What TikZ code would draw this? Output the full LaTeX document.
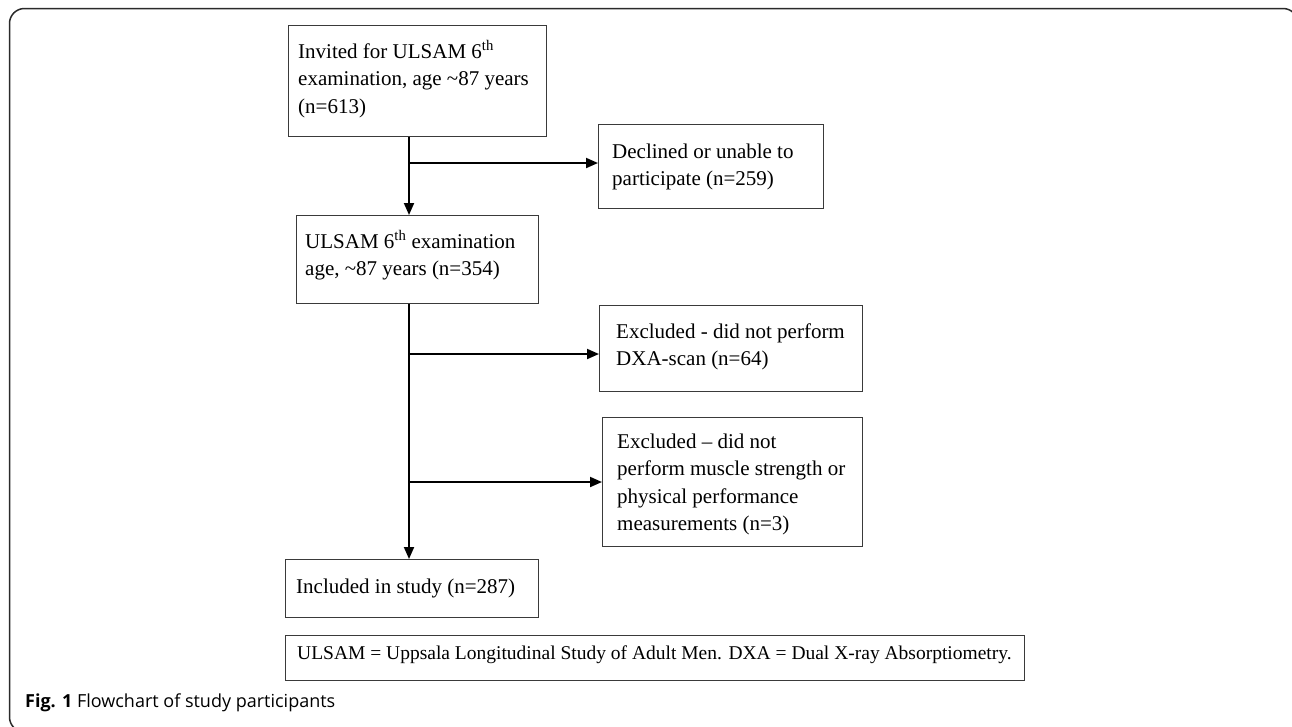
\documentclass[tikz,border=0pt]{standalone}
\usepackage{fontspec}
\setmainfont{Liberation Serif}
\newfontfamily\capfont{Open Sans}
\usetikzlibrary{arrows.meta}
\definecolor{boxline}{HTML}{3A3A3A}
\definecolor{frameline}{HTML}{2A2A2A}
\begin{document}
\begin{tikzpicture}[x=1pt,y=-1pt,
  flowbox/.style={draw=boxline,line width=1.3pt,rectangle,inner sep=0pt,anchor=north west},
  flowtext/.style={inner sep=0pt,anchor=north west,align=left,font=\fontsize{21}{27.5}\selectfont},
  arr/.style={draw=black,line width=1.9pt,-{Triangle[length=12pt,width=10pt]}},
  plain/.style={draw=black,line width=1.9pt}]
\useasboundingbox[fill=white] (0,0) rectangle (1292,726);
\begin{scope}
\clip (0,0) rectangle (1292,726);
\draw[frameline,line width=1.5pt,rounded corners=15pt] (9.5,8.5) rectangle (1298,732);
\end{scope}
% boxes
\node[flowbox,minimum width=258pt,minimum height=111pt] (b1) at (288,25) {};
\node[flowbox,minimum width=225pt,minimum height=84pt] (b2) at (598,124) {};
\node[flowbox,minimum width=242pt,minimum height=88pt] (b3) at (296,215) {};
\node[flowbox,minimum width=263pt,minimum height=86pt] (b4) at (599,305) {};
\node[flowbox,minimum width=260pt,minimum height=129pt] (b5) at (602,417) {};
\node[flowbox,minimum width=253pt,minimum height=58pt] (b6) at (285,559) {};
\node[flowbox,minimum width=739pt,minimum height=45pt] (b7) at (285,635) {};
% texts
\node[flowtext] (t1) at ([xshift=10pt,yshift=-13.75pt]b1.north west) {\strut Invited for ULSAM 6\textsuperscript{th}\\examination, age \textasciitilde87 years\\(n=613)};
\node[flowtext] (t2) at ([xshift=14pt,yshift=-14.75pt]b2.north west) {\strut Declined or unable to\\participate (n=259)};
\node[flowtext] (t3) at ([xshift=9pt,yshift=-13.75pt]b3.north west) {\strut ULSAM 6\textsuperscript{th} examination\\age, \textasciitilde87 years (n=354)};
\node[flowtext] (t4) at ([xshift=17pt,yshift=-13.75pt]b4.north west) {\strut Excluded - did not perform\\DXA-scan (n=64)};
\node[flowtext] (t5) at ([xshift=15pt,yshift=-11.75pt]b5.north west) {\strut Excluded -- did not\\perform muscle strength or\\physical performance\\measurements (n=3)};
\node[flowtext] (t6) at ([xshift=11pt,yshift=-14.75pt]b6.north west) {\strut Included in study (n=287)};
\node[inner sep=0pt,anchor=base west,font=\fontsize{19.5}{24}\selectfont] (t7) at (297,659) {ULSAM = Uppsala Longitudinal Study of Adult Men. DXA = Dual X-ray Absorptiometry.};
% caption
\node[inner sep=0pt,anchor=base west,font=\capfont\fontsize{18}{22}\selectfont] (cap) at (25,707) {\textbf{Fig. 1} Flowchart of study participants};
% connectors
\coordinate (vx) at (409,0);
\coordinate (j1) at (409,163);
\coordinate (j2) at (409,354);
\coordinate (j3) at (409,482);
\draw[arr] (b1.south -| vx) -- (b3.north -| vx);
\draw[arr] (j1) -- (j1 -| b2.west);
\draw[arr] (b3.south -| vx) -- (b6.north -| vx);
\draw[arr] (j2) -- (j2 -| b4.west);
\draw[arr] (j3) -- (j3 -| b5.west);
\end{tikzpicture}
\end{document}
